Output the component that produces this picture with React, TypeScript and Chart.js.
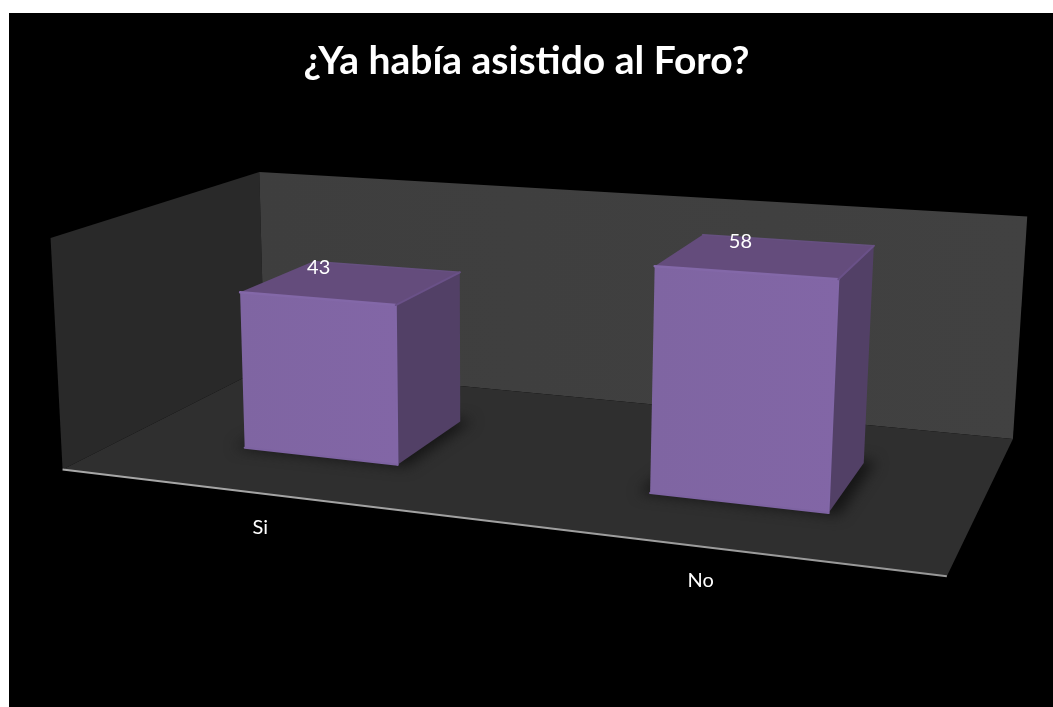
import React, { useEffect, useRef } from "react";
import { Chart, registerables } from "chart.js";

Chart.register(...registerables);

const TITLE = "¿Ya había asistido al Foro?";
const CATEGORIES = ["Si", "No"];
const VALUES = [43, 58];
const AXIS_MAX = 61.5;

// Camera calibration: where corners of the chart's 3D box (u along the axis, d in depth, h in height) land on the picture.
const BOX_CORNERS: number[][] = [
  [0, 0, 0, 63, 468],
  [1, 0, 0, 947, 577],
  [0, 1, 0, 264, 369],
  [1, 1, 0, 1013, 438],
  [0, 1, 1, 260, 171],
  [1, 1, 1, 1027, 217],
  [0, 0, 1, 50, 239],
];
const BAR_DEPTH = [0.3, 0.685];
const U_SHIFT = 0.0035;

function solve(A: number[][], b: number[]) {
  const n = b.length;
  const M = A.map((r, i) => [...r, b[i]]);
  for (let c = 0; c < n; c++) {
    let p = c;
    for (let r = c + 1; r < n; r++) if (Math.abs(M[r][c]) > Math.abs(M[p][c])) p = r;
    [M[c], M[p]] = [M[p], M[c]];
    for (let r = 0; r < n; r++) {
      if (r === c) continue;
      const f = M[r][c] / M[c][c];
      for (let k = c; k <= n; k++) M[r][k] -= f * M[c][k];
    }
  }
  return M.map((r, i) => r[n] / r[i]);
}

function calibrate() {
  const rows: number[][] = [];
  const rhs: number[] = [];
  for (const [u, d, h, X, Y] of BOX_CORNERS) {
    const x = X / 1000;
    const y = Y / 1000;
    rows.push([u, d, h, 1, 0, 0, 0, 0, -x * u, -x * d, -x * h]);
    rhs.push(x);
    rows.push([0, 0, 0, 0, u, d, h, 1, -y * u, -y * d, -y * h]);
    rhs.push(y);
  }
  const n = 11;
  const ata = Array.from({ length: n }, (_, i) =>
    Array.from({ length: n }, (_, j) => rows.reduce((s, r) => s + r[i] * r[j], 0))
  );
  const atb = Array.from({ length: n }, (_, i) => rows.reduce((s, r, k) => s + r[i] * rhs[k], 0));
  return solve(ata, atb);
}

const CAM = calibrate();
function project(u: number, d: number, h: number): [number, number] {
  const w = CAM[8] * u + CAM[9] * d + CAM[10] * h + 1;
  return [
    (1000 * (CAM[0] * u + CAM[1] * d + CAM[2] * h + CAM[3])) / w,
    (1000 * (CAM[4] * u + CAM[5] * d + CAM[6] * h + CAM[7])) / w,
  ];
}

function poly(ctx: CanvasRenderingContext2D, pts: [number, number][], fill: string | CanvasGradient) {
  ctx.beginPath();
  pts.forEach((p, i) => (i ? ctx.lineTo(p[0], p[1]) : ctx.moveTo(p[0], p[1])));
  ctx.closePath();
  ctx.fillStyle = fill;
  ctx.fill();
}
function edge(ctx: CanvasRenderingContext2D, a: [number, number], b: [number, number], color: string, w: number) {
  ctx.beginPath();
  ctx.moveTo(a[0], a[1]);
  ctx.lineTo(b[0], b[1]);
  ctx.strokeStyle = color;
  ctx.lineWidth = w;
  ctx.stroke();
}

const scene3d = {
  id: "scene3d",
  beforeDraw(chart: any) {
    const { ctx, width, height } = chart;
    ctx.save();
    ctx.fillStyle = "#ffffff";
    ctx.fillRect(0, 0, width, height);
    ctx.fillStyle = "#000000";
    ctx.fillRect(9, 13, width - 9, height - 13);
    ctx.restore();
  },
  beforeDatasetDraw() {
    return false;
  },
  beforeDatasetsDraw(chart: any) {
    const { ctx, chartArea: area, scales } = chart;
    const toU = (x: number) => (x - area.left) / (area.right - area.left) + U_SHIFT;
    const toH = (y: number) => (area.bottom - y) / (area.bottom - area.top);
    ctx.save();
    // walls and floor
    poly(ctx, [project(0, 0, 0), project(0, 1, 0), project(0, 1, 1), project(0, 0, 1)], "#292929");
    const back = ctx.createLinearGradient(260, 0, 1027, 0);
    back.addColorStop(0, "#3e3e3e");
    back.addColorStop(1, "#414141");
    poly(ctx, [project(0, 1, 0), project(1, 1, 0), project(1, 1, 1), project(0, 1, 1)], back);
    poly(ctx, [project(0, 0, 0), project(1, 0, 0), project(1, 1, 0), project(0, 1, 0)], "#2f2f2f");
    const a0 = project(0, 0, 0);
    const a1 = project(1, 0, 0);
    const axis = ctx.createLinearGradient(a0[0], 0, a1[0], 0);
    axis.addColorStop(0, "#a8a8a8");
    axis.addColorStop(1, "#989898");
    edge(ctx, a0, a1, axis as any, 2);

    // category labels
    ctx.textAlign = "center";
    ctx.textBaseline = "middle";
    ctx.font = "20px Lato";
    ctx.fillStyle = "#ffffff";
    CATEGORIES.forEach((c, i) => {
      const p = project(toU(scales.x.getPixelForValue(i)), 0, 0);
      ctx.fillText(c, p[0], p[1] + 34);
    });

    // bars
    const [d0, d1] = BAR_DEPTH;
    const meta = chart.getDatasetMeta(0);
    meta.data.forEach((bar: any, i: number) => {
      const u0 = toU(bar.x - bar.width / 2);
      const u1 = toU(bar.x + bar.width / 2);
      const h = toH(bar.y);
      const b = toH(bar.base);
      // soft contact shadow
      ctx.save();
      ctx.filter = "blur(7px)";
      poly(ctx, [project(u0 - 0.012, d0 - 0.005, b), project(u1 + 0.012, d0 - 0.005, b), project(u1 + 0.012, d1 + 0.02, b), project(u0, d1 + 0.02, b)], "#151515");
      ctx.restore();

      const fbl = project(u0, d0, b);
      const fbr = project(u1, d0, b);
      const ftl = project(u0, d0, h);
      const ftr = project(u1, d0, h);
      const bbr = project(u1, d1, b);
      const btr = project(u1, d1, h);
      const btl = project(u0, d1, h);

      poly(ctx, [fbr, bbr, btr, ftr], "#524066");
      poly(ctx, [ftl, ftr, btr, btl], "#644c7c");
      const front = ctx.createLinearGradient(ftl[0], 0, ftr[0], 0);
      front.addColorStop(0, "#7f65a2");
      front.addColorStop(1, "#8266a6");
      poly(ctx, [fbl, fbr, ftr, ftl], front);
      // bevel highlights
      ctx.lineCap = "round";
      ctx.lineJoin = "round";
      edge(ctx, ftl, ftr, "#8368a8", 2.5);
      edge(ctx, ftr, fbr, "#8267a7", 2);
      edge(ctx, fbl, fbr, "#7d63a1", 2);
      edge(ctx, ftr, btr, "#6a5188", 2);
      edge(ctx, btl, btr, "#665080", 1.5);

      // value label
      const c = project((u0 + u1) / 2, d0 + 0.09, h);
      ctx.font = "20px Lato";
      ctx.fillStyle = "#ffffff";
      ctx.fillText(String(VALUES[i]), c[0] - 15, c[1] - 23);
    });
    ctx.restore();
  },
};

export default function App() {
  const ref = useRef<HTMLCanvasElement>(null);
  useEffect(() => {
    document.body.style.margin = "0";
    const chart = new Chart(ref.current!, {
      type: "bar",
      data: {
        labels: CATEGORIES,
        datasets: [
          {
            label: "Respuestas",
            data: VALUES,
            backgroundColor: "#8064a2",
            categoryPercentage: 1,
            barPercentage: 0.395,
          },
        ],
      },
      options: {
        responsive: false,
        animation: false,
        plugins: {
          legend: { display: false },
          tooltip: { enabled: false },
          title: {
            display: true,
            text: TITLE,
            color: "#ffffff",
            font: { family: "Lato", size: 39, weight: "bold" },
            padding: { top: 38, bottom: 10 },
          },
        },
        scales: {
          x: { display: false },
          y: { display: false, min: 0, max: AXIS_MAX },
        },
      },
      plugins: [scene3d],
    } as any);
    return () => chart.destroy();
  }, []);
  return <canvas ref={ref} width={1053} height={707} style={{ display: "block" }} />;
}
